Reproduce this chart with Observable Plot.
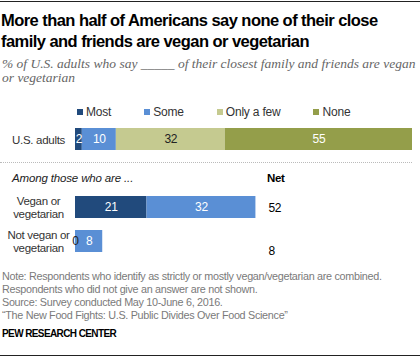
<!DOCTYPE html>
<html>
<head>
<meta charset="utf-8">
<script src="https://cdn.jsdelivr.net/npm/d3@7"></script>
<script src="https://cdn.jsdelivr.net/npm/@observablehq/plot@0.6"></script>
<style>
  html, body { margin: 0; padding: 0; background: #fff; }
  #wrap { position: relative; width: 420px; height: 357px; overflow: hidden;
          font-family: "Liberation Sans", Arial, sans-serif; }
  .abs { position: absolute; white-space: nowrap; }
  #topline { left: 0; top: 1px; width: 420px; height: 1px; background: #222; }
  #botline { left: 0; top: 355px; width: 420px; height: 1px; background: #222; }
  #title { left: 1px; top: 9.5px; font-size: 16.5px; line-height: 21px; font-weight: bold; color: #000; letter-spacing: -0.55px; }
  #subtitle { left: 2px; top: 56.5px; font-family: "Liberation Serif", serif; font-style: italic;
              font-size: 13.5px; line-height: 14px; color: #666; }
  #legend { left: 77px; top: 105.5px; display: flex; gap: 33px; font-size: 12px; line-height: 12px; color: #333; letter-spacing: -0.2px; }
  #legend .item { display: flex; align-items: center; }
  #legend .sw { width: 6px; height: 6px; margin-right: 3px; }
  #dots { left: 0; top: 162px; width: 412px; height: 0; border-top: 1px dotted #bbb; }
  #among { left: 12px; top: 171.5px; font-size: 11.5px; line-height: 12px; font-style: italic; color: #222; letter-spacing: -0.15px; }
  #nethead { left: 267px; top: 171.5px; font-size: 11.5px; line-height: 12px; font-weight: bold; color: #000; letter-spacing: -0.3px; }
  #chart { left: 0; top: 116px; }
  #chart svg text { letter-spacing: -0.3px; }
  #notes { left: 2px; top: 269.5px; font-size: 10.8px; line-height: 13px; color: #7a7a7a; letter-spacing: -0.3px; }
  #pew { left: 2px; top: 327.5px; font-size: 10px; line-height: 12px; font-weight: bold; color: #000; letter-spacing: -0.6px; }
</style>
</head>
<body>
<div id="wrap">
  <div id="topline" class="abs"></div>
  <div id="title" class="abs">More than half of Americans say none of their close<br>family and friends are vegan or vegetarian</div>
  <div id="subtitle" class="abs">% of U.S. adults who say _____ of their closest family and friends are vegan<br>or vegetarian</div>
  <div id="legend" class="abs"></div>
  <div id="dots" class="abs"></div>
  <div id="among" class="abs">Among those who are ...</div>
  <div id="nethead" class="abs">Net</div>
  <div id="chart" class="abs"></div>
  <div id="notes" class="abs">Note: Respondents who identify as strictly or mostly vegan/vegetarian are combined.<br>Respondents who did not give an answer are not shown.<br>Source: Survey conducted May 10-June 6, 2016.<br>“The New Food Fights: U.S. Public Divides Over Food Science”</div>
  <div id="pew" class="abs">PEW RESEARCH CENTER</div>
  <div id="botline" class="abs"></div>
</div>
<script>
const categories = ["Most", "Some", "Only a few", "None"];
const colors = ["#214a7c", "#5a8fd5", "#c5ca90", "#949e4a"];
const groups = ["U.S. adults", "Vegan or vegetarian", "Not vegan or vegetarian"];
const groupLabels = ["U.S. adults", "Vegan or\nvegetarian", "Not vegan or\nvegetarian"];
const usAdults = [2, 10, 32, 55];
const veganVeg = [21, 32, null, null];
const notVeganVeg = [0, 8, null, null];
const netValues = [null, 52, 8];

const seriesByGroup = [usAdults, veganVeg, notVeganVeg];
const rows = [];
groups.forEach((g, gi) => {
  categories.forEach((c, ci) => {
    const v = seriesByGroup[gi][ci];
    if (v != null) rows.push({group: g, category: c, value: v});
  });
});
const labelRows = groups.map((g, i) => ({group: g, label: groupLabels[i]}));
const netRows = groups.map((g, i) => ({group: g, net: netValues[i]})).filter(d => d.net != null);

const yDomain = ["U.S. adults", "_sep", "Vegan or vegetarian", "Not vegan or vegetarian"];

// legend
const legend = document.getElementById("legend");
categories.forEach((c, i) => {
  const item = document.createElement("div");
  item.className = "item";
  const sw = document.createElement("div");
  sw.className = "sw";
  sw.style.background = colors[i];
  const t = document.createElement("span");
  t.textContent = c;
  item.appendChild(sw);
  item.appendChild(t);
  legend.appendChild(item);
});

const font = '"Liberation Sans", Arial, sans-serif';
const darkText = d => d.category === "Only a few" || d.value === 0;

const chart = Plot.plot({
  width: 420,
  height: 150,
  marginLeft: 75,
  marginRight: 8,
  marginTop: 0,
  marginBottom: 0,
  x: {domain: [0, 99], axis: null},
  y: {type: "band", domain: yDomain, range: [6, 142], paddingInner: 0.34, paddingOuter: 0.17, axis: null},
  color: {domain: categories, range: colors},
  style: {fontFamily: font, fontSize: "12px", overflow: "visible", background: "transparent"},
  marks: [
    Plot.barX(rows, Plot.stackX({x: "value", y: "group", fill: "category"})),
    Plot.text(rows, Plot.stackX({x: "value", y: "group", z: "category",
      text: d => darkText(d) ? "" : String(d.value), fill: "white", fontSize: 12})),
    Plot.text(rows, Plot.stackX({x: "value", y: "group", z: "category",
      text: d => darkText(d) ? String(d.value) : "", fill: "#222", fontSize: 12})),
    Plot.text(labelRows, {y: "group", text: "label", frameAnchor: "left", dx: -37, textAnchor: "middle",
      fill: "#333", fontSize: 11.5, lineHeight: 1.15}),
    Plot.text(netRows, {filter: d => d.net > 10, y: "group", text: d => String(d.net), frameAnchor: "left",
      dx: 193, textAnchor: "start", fill: "#000", fontSize: 12, dy: 1}),
    Plot.text(netRows, {filter: d => d.net <= 10, y: "group", text: d => String(d.net), frameAnchor: "left",
      dx: 193, textAnchor: "start", fill: "#000", fontSize: 12, dy: 10})
  ]
});
document.getElementById("chart").appendChild(chart);
</script>
</body>
</html>
